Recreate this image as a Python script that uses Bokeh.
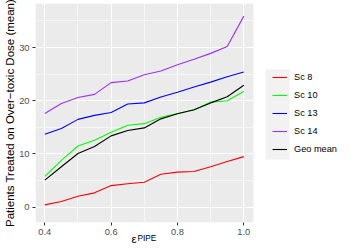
from bokeh.plotting import figure
from bokeh.models import (Legend, LegendItem, Title, FixedTicker, Range1d,
                          PrintfTickFormatter, BoxAnnotation)
from bokeh.embed import file_html
from bokeh.resources import INLINE

# ---- data ----
eps = [0.40, 0.45, 0.50, 0.55, 0.60, 0.65, 0.70, 0.75, 0.80, 0.85, 0.90, 0.95, 1.00]
sc8 = [0.44, 1.06, 2.06, 2.7, 4.06, 4.4, 4.7, 6.2, 6.6, 6.7, 7.6, 8.6, 9.5]
sc10 = [5.8, 8.8, 11.5, 12.6, 14.1, 15.4, 15.7, 16.9, 17.6, 18.25, 19.75, 20.0, 21.75]
sc13 = [13.7, 14.8, 16.5, 17.25, 17.8, 19.4, 19.6, 20.7, 21.6, 22.6, 23.5, 24.5, 25.4]
sc14 = [17.6, 19.5, 20.6, 21.2, 23.4, 23.7, 24.9, 25.6, 26.75, 27.8, 28.9, 30.2, 35.9]
geo = [5.1, 7.6, 10.1, 11.4, 13.4, 14.4, 14.9, 16.6, 17.55, 18.3, 19.6, 20.75, 22.9]

series_names = ["Sc 8", "Sc 10", "Sc 13", "Sc 14", "Geo mean"]
series_values = [sc8, sc10, sc13, sc14, geo]
series_colors = ["#FF0000", "#00FF00", "#0000FF", "#9B30FF", "#000000"]

x_ticks = [0.4, 0.6, 0.8, 1.0]
x_minor = [0.5, 0.7, 0.9]
y_ticks = [0, 10, 20, 30]
y_minor = [5, 15, 25, 35]

# panel extents (data units) and the extra room on the right for the legend
X_PANEL = (0.372, 1.029)
X_FRAME_END = 1.3187
Y_PANEL = (-2.87, 38.27)

FONT = "Liberation Sans"

p = figure(width=349, height=249, output_backend="svg", toolbar_location=None,
           x_range=Range1d(X_PANEL[0], X_FRAME_END),
           y_range=Range1d(Y_PANEL[0], Y_PANEL[1]),
           min_border_left=35, min_border_right=0, min_border_top=3,
           min_border_bottom=27)
p.background_fill_color = "white"
p.border_fill_color = "white"
p.outline_line_color = None

# grey plotting panel (ggplot style)
p.add_layout(BoxAnnotation(left=X_PANEL[0], right=X_PANEL[1],
                           fill_color="#EBEBEB", fill_alpha=1,
                           line_color=None, level="image"))

p.xaxis.ticker = FixedTicker(ticks=x_ticks, minor_ticks=x_minor)
p.yaxis.ticker = FixedTicker(ticks=y_ticks, minor_ticks=y_minor)
p.xaxis.formatter = PrintfTickFormatter(format="%.1f")
for ax in (p.xaxis, p.yaxis):
    ax.axis_line_color = None
    ax.major_tick_line_color = "#333333"
    ax.major_tick_in = 0
    ax.major_tick_out = 3
    ax.minor_tick_line_color = None
    ax.major_label_text_font = FONT
    ax.major_label_text_font_size = "9.3px"
    ax.major_label_text_color = "#4D4D4D"
    ax.major_label_standoff = 2

p.xgrid.grid_line_color = "white"
p.ygrid.grid_line_color = "white"
p.xgrid.grid_line_width = 1.1
p.ygrid.grid_line_width = 1.1
p.xgrid.minor_grid_line_color = "white"
p.ygrid.minor_grid_line_color = "white"
p.xgrid.minor_grid_line_width = 0.55
p.ygrid.minor_grid_line_width = 0.55

renderers = []
for vals, col in zip(series_values, series_colors):
    renderers.append(p.line(eps, vals, line_color=col, line_width=1.1))

# y-axis title
p.add_layout(Title(text="Patients Treated on Over\u2212toxic Dose (mean)",
                   align="center", offset=-4, standoff=1,
                   text_font=FONT, text_font_size="11.5px",
                   text_font_style="normal", text_color="black"), "left")

# x-axis title: epsilon with subscript PIPE
p.add_layout(Title(text="\u03b5", align="left", offset=96, standoff=-14,
                   text_font=FONT, text_font_size="11.5px",
                   text_font_style="normal", text_color="black"), "below")
p.add_layout(Title(text="PIPE", align="left", offset=102, standoff=-11.5,
                   vertical_align="middle",
                   text_font=FONT, text_font_size="8.3px",
                   text_font_style="normal", text_color="black"), "below")

# grey legend-key strip (drawn above the grid lines)
p.add_layout(BoxAnnotation(left=1.0655, right=1.138, bottom=8.96, top=25.93,
                           fill_color="#F2F2F2", fill_alpha=1,
                           line_color=None, level="underlay"))

legend = Legend(items=[LegendItem(label=n, renderers=[r])
                       for n, r in zip(series_names, renderers)],
                location=(237, 64))
legend.label_text_font = FONT
legend.label_text_font_size = "9.2px"
legend.label_text_color = "black"
legend.glyph_width = 15
legend.glyph_height = 18
legend.label_height = 18
legend.spacing = 0
legend.label_standoff = 7
legend.padding = 0
legend.margin = 0
legend.border_line_color = None
legend.background_fill_alpha = 0
p.add_layout(legend)

open("out.html", "w").write(file_html(p, INLINE))
